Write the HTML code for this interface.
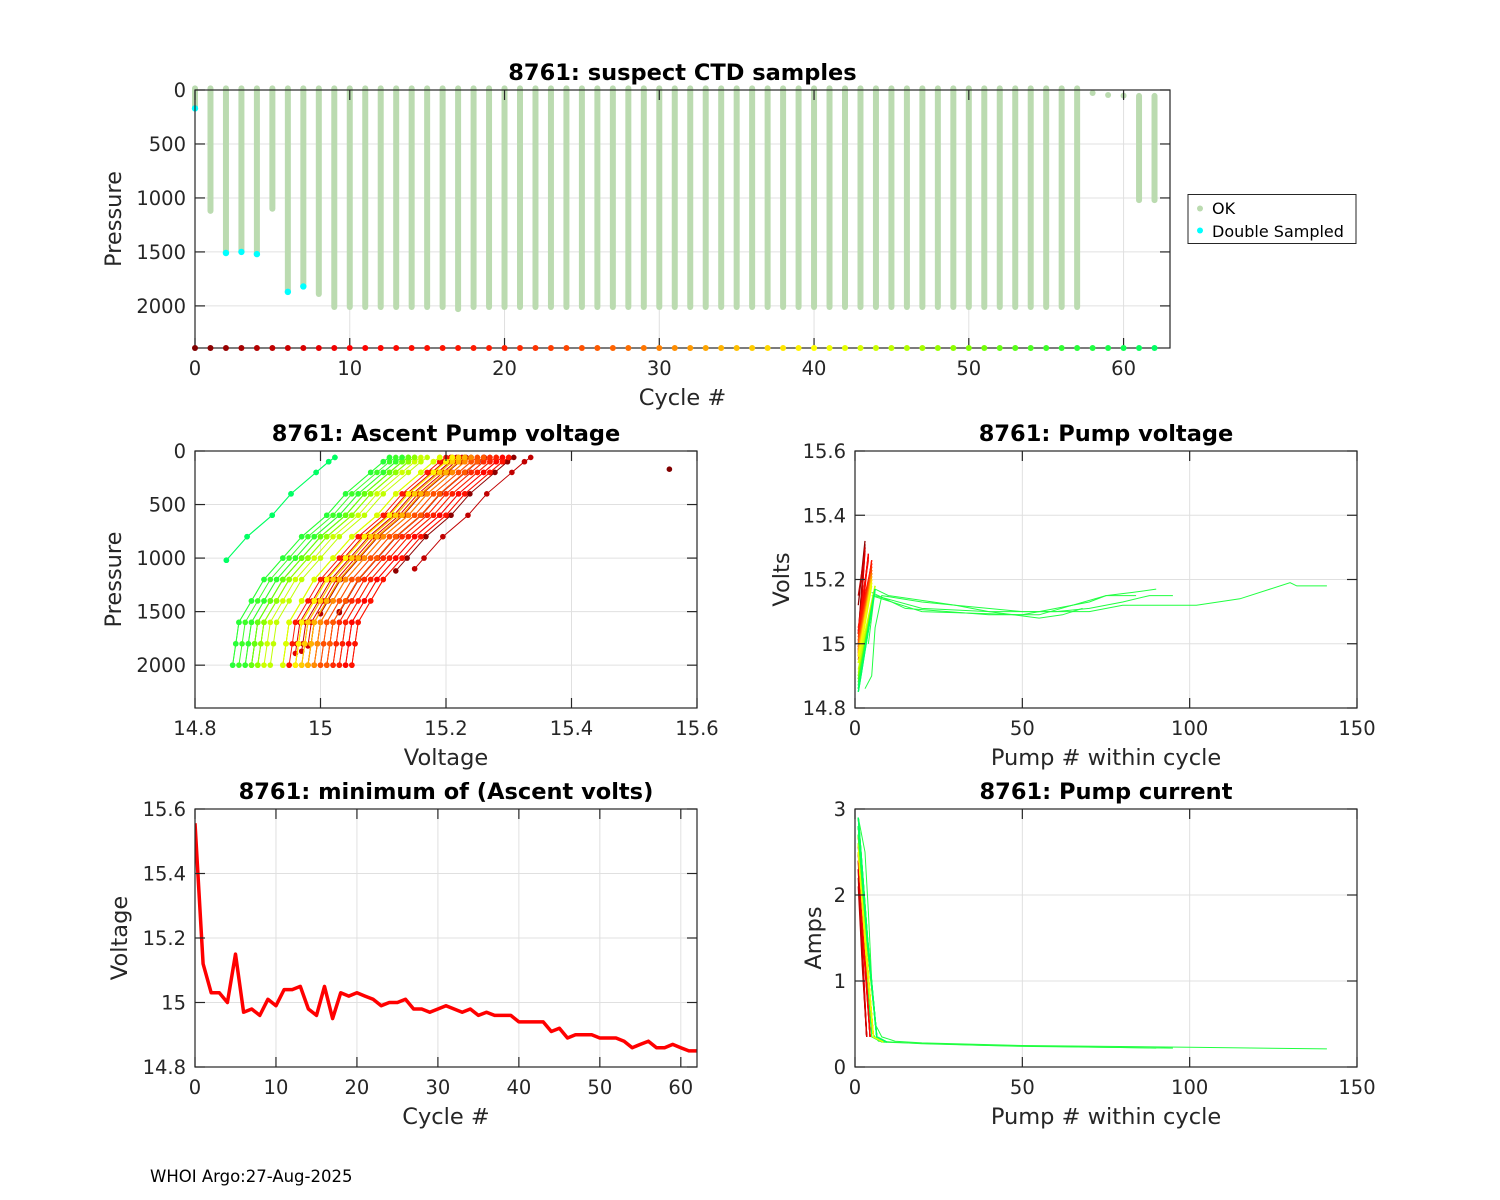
<!DOCTYPE html>
<html><head><meta charset="utf-8"><style>
html,body{margin:0;padding:0;background:#fff;}
svg{display:block;font-family:"DejaVu Sans","Liberation Sans",sans-serif;}
</style></head><body>
<svg id="fig" width="1500" height="1200" viewBox="0 0 1500 1200" xmlns="http://www.w3.org/2000/svg">
<rect width="1500" height="1200" fill="#fff"/>
<text x="150" y="1182" font-size="16.5" fill="#000">WHOI Argo:27-Aug-2025</text>
</svg>
<script>
// ---------- data ----------
const cycles = [0,1,2,3,4,5,6,7,8,9,10,11,12,13,14,15,16,17,18,19,20,21,22,23,24,25,26,27,28,29,30,31,32,33,34,35,36,37,38,39,40,41,42,43,44,45,46,47,48,49,50,51,52,53,54,55,56,57,58,59,60,61,62];
const maxPres = [170,1120,1510,1500,1520,1100,1870,1820,1890,2010,2010,2010,2010,2010,2010,2010,2010,2030,2010,2010,2010,2010,2010,2010,2010,2010,2010,2010,2010,2010,2010,2010,2010,2010,2010,2010,2010,2010,2010,2010,2010,2010,2010,2010,2010,2010,2010,2010,2010,2010,2010,2010,2010,2010,2010,2010,2010,2010,28,46,52,1020,1020];
const minPres = [-15,-15,-15,-15,-15,-15,-15,-15,-15,-15,-15,-15,-15,-15,-15,-15,-15,-15,-15,-15,-15,-15,-15,-15,-15,-15,-15,-15,-15,-15,-15,-15,-15,-15,-15,-15,-15,-15,-15,-15,-15,-15,-15,-15,-15,-15,-15,-15,-15,-15,-15,-15,-15,-15,-15,-15,-15,-15,28,46,52,55,55];
const doubleCycles = [0,2,3,4,6,7];
const doublePres = [170,1510,1500,1520,1870,1820];
const minVolts = [15.556,15.12,15.03,15.03,15.0,15.15,14.97,14.98,14.96,15.01,14.99,15.04,15.04,15.05,14.98,14.96,15.05,14.95,15.03,15.02,15.03,15.02,15.01,14.99,15.0,15.0,15.01,14.98,14.98,14.97,14.98,14.99,14.98,14.97,14.98,14.96,14.97,14.96,14.96,14.96,14.94,14.94,14.94,14.94,14.91,14.92,14.89,14.9,14.9,14.9,14.89,14.89,14.89,14.88,14.86,14.87,14.88,14.86,14.86,14.87,14.86,14.85,14.85];
const profLevels = [2000,1800,1600,1400,1200,1000,800,600,400,200,100,60];
const profOffset = [0,0.005,0.01,0.03,0.05,0.08,0.11,0.15,0.18,0.22,0.24,0.25];
const pvPeak = [15.3,15.32,15.31,15.3,15.3,15.29,15.3,15.29,15.28,15.28,15.28,15.27,15.27,15.26,15.26,15.26,15.25,15.25,15.25,15.25,15.24,15.24,15.24,15.23,15.23,15.23,15.22,15.22,15.22,15.22,15.22,15.21,15.21,15.21,15.2,15.2,15.2,15.2,15.19,15.19,15.19,15.19,15.18,15.18,15.18,15.18,15.17,15.17,15.17,15.17,15.17,15.17,15.17,15.17,15.17,15.17,15.17,15.17,15.17,15.17,15.17,15.17,15.17];
const pvN = [3,3,3,3,3,3,3,3,4,4,4,4,4,4,5,5,5,5,5,5,5,5,5,5,5,5,5,5,5,5,5,5,5,5,5,5,5,5,5,5,5,5,5,6,6,6,6,6,6,6,6,6,6,6,6,6,6,6,6,6,6,6,6];
const currStart = [2.0,2.3,2.2,2.4,2.1,2.5,2.3,2.6,2.4,2.5,2.6,2.5,2.7,2.6,2.5,2.6,2.7,2.6,2.5,2.6,2.7,2.6,2.5,2.6,2.7,2.6,2.5,2.6,2.7,2.6,2.5,2.6,2.7,2.6,2.5,2.6,2.7,2.6,2.5,2.6,2.7,2.6,2.5,2.6,2.7,2.8,2.7,2.8,2.9,2.8,2.7,2.8,2.9,2.8,2.7,2.8,2.9,2.8,2.7,2.8,2.9,2.8,2.9];
const longV1 = [[4,15.0],[6,15.17],[10,15.15],[30,15.12],[50,15.1],[70,15.1],[80,15.12],[102,15.12],[115,15.14],[124,15.17],[130,15.19],[132,15.18],[141,15.18]];
const longV2 = [[3,14.86],[5,14.9],[6,15.05],[8,15.15],[20,15.13],[30,15.12],[40,15.1],[60,15.1],[70,15.11],[80,15.13],[88,15.15],[95,15.15]];
const longV3 = [[5,15.16],[15,15.11],[40,15.09],[55,15.09],[65,15.12],[75,15.15],[83,15.16],[90,15.17]];
const longV4 = [[5,15.15],[20,15.1],[50,15.09],[55,15.1],[70,15.13],[75,15.15],[84,15.15]];
const longV5 = [[6,15.15],[20,15.11],[40,15.1],[55,15.08],[62,15.09],[68,15.11]];
const longC1 = [[1,2.9],[3,2.5],[4,1.8],[5,1.0],[6,0.5],[8,0.35],[12,0.3],[20,0.28],[50,0.25],[100,0.23],[141,0.21]];
const longC2 = [[1,2.8],[4,0.9],[5,0.4],[7,0.3],[20,0.27],[50,0.24],[95,0.22]];
const longC3 = [[1,2.7],[4,0.8],[5,0.35],[8,0.29],[40,0.25],[90,0.22]];

// ---------- helpers ----------
const svg = document.getElementById('fig');
const NS = 'http://www.w3.org/2000/svg';
function mk(tag, attrs, parent){
  const e = document.createElementNS(NS, tag);
  for (const k in attrs) e.setAttribute(k, attrs[k]);
  (parent||svg).appendChild(e);
  return e;
}
function lerp(a,b,t){return a+(b-a)*t;}
const cmapStops = [[0,[128,0,0]],[10,[255,0,0]],[20,[255,32,0]],[30,[255,128,0]],[40,[255,255,0]],[50,[128,255,0]],[56,[48,255,48]],[62,[0,255,100]]];
function cmap(c){
  for (let i=0;i<cmapStops.length-1;i++){
    const [a,ca]=cmapStops[i],[b,cb]=cmapStops[i+1];
    if (c<=b){const t=(c-a)/(b-a);return 'rgb('+ca.map((v,j)=>Math.round(lerp(v,cb[j],t))).join(',')+')';}
  }
  return 'rgb(0,255,100)';
}
function makeAxes(o){
  const sx = v => o.x0 + (v-o.xl[0])/(o.xl[1]-o.xl[0])*(o.x1-o.x0);
  const sy = o.rev ? (v => o.y0 + (v-o.yl[0])/(o.yl[1]-o.yl[0])*(o.y1-o.y0))
                   : (v => o.y1 - (v-o.yl[0])/(o.yl[1]-o.yl[0])*(o.y1-o.y0));
  const g = mk('g',{});
  
  
  const grid = mk('g',{stroke:'#e0e0e0','stroke-width':1},g);
  
  
  o.xt.forEach(t=>mk('line',{x1:sx(t),x2:sx(t),y1:o.y0,y2:o.y1},grid));
  o.yt.forEach(t=>mk('line',{x1:o.x0,x2:o.x1,y1:sy(t),y2:sy(t)},grid));
  const cid = o.name+'-clip';
  const cp = mk('clipPath',{id:cid},g);
  mk('rect',{x:o.x0,y:o.y0,width:o.x1-o.x0,height:o.y1-o.y0},cp);
  const data = mk('g',{'clip-path':o.noclip?'':'url(#'+cid+')'},g);
  
  
  return {g,sx,sy,data,o};
}
function finishAxes(A){
  const o=A.o, g=A.g, sx=A.sx, sy=A.sy;
  const fr = mk('g',{stroke:'#262626','stroke-width':1.2,fill:'none'},g);
  
  
  mk('rect',{x:o.x0,y:o.y0,width:o.x1-o.x0,height:o.y1-o.y0},fr);
  o.xt.forEach(t=>{mk('line',{x1:sx(t),x2:sx(t),y1:o.y1,y2:o.y1-10},fr);mk('line',{x1:sx(t),x2:sx(t),y1:o.y0,y2:o.y0+10},fr);});
  o.yt.forEach(t=>{mk('line',{x1:o.x0,x2:o.x0+10,y1:sy(t),y2:sy(t)},fr);mk('line',{x1:o.x1,x2:o.x1-10,y1:sy(t),y2:sy(t)},fr);});
  const tl = mk('g',{'font-size':19.5,fill:'#262626'},g);
  
  
  o.xt.forEach((t,i)=>{const e=mk('text',{x:sx(t),y:o.y1+27,'text-anchor':'middle'},tl);e.textContent=o.xtl[i];});
  o.yt.forEach((t,i)=>{const e=mk('text',{x:o.x0-9,y:sy(t)+7,'text-anchor':'end'},tl);e.textContent=o.ytl[i];});
  const ti = mk('text',{x:(o.x0+o.x1)/2,y:o.y0-10,'text-anchor':'middle','font-size':22.5,'font-weight':'bold',fill:'#000'},g);
  
  
  ti.textContent=o.title;
  const xl = mk('text',{x:(o.x0+o.x1)/2,y:o.y1+57,'text-anchor':'middle','font-size':22.5,fill:'#262626'},g);
  
  
  xl.textContent=o.xlabel;
  const cy=(o.y0+o.y1)/2;
  const yl = mk('text',{x:o.ylx,y:cy,'text-anchor':'middle','font-size':22.5,fill:'#262626',transform:'rotate(-90 '+o.ylx+' '+cy+')'},g);
  
  
  yl.textContent=o.ylabel;
}
function pathOf(pts){return pts.map((p,i)=>(i?'L':'M')+p[0].toFixed(1)+' '+p[1].toFixed(1)).join(' ');}

// ---------- Plot 1: suspect CTD samples ----------
(function(){
  const A = makeAxes({name:'ctd-samples-plot',x0:195,x1:1170,y0:90,y1:348,xl:[0,63],yl:[0,2390],rev:true,
    xt:[0,10,20,30,40,50,60],xtl:['0','10','20','30','40','50','60'],yt:[0,500,1000,1500,2000],ytl:['0','500','1000','1500','2000'],
    title:'8761: suspect CTD samples',xlabel:'Cycle #',ylabel:'Pressure',ylx:121,noclip:true});
  cycles.forEach((c,i)=>{
    const l = mk('line',{x1:A.sx(c),x2:A.sx(c),y1:A.sy(minPres[i]),y2:A.sy(maxPres[i]),stroke:'#bbdbb0','stroke-width':6,'stroke-linecap':'round'},A.data);
    
    
  });
  doubleCycles.forEach((c,i)=>{
    const d = mk('circle',{cx:A.sx(c),cy:A.sy(doublePres[i]),r:3.2,fill:'#00ffff'},A.data);
    
    
  });
  finishAxes(A);
  cycles.forEach(c=>{
    const d = mk('circle',{cx:A.sx(c),cy:348,r:3,fill:cmap(c)},A.g);
    
    
  });
  const lg = mk('g',{},svg);
  
  
  mk('rect',{x:1188,y:194.5,width:168,height:49,fill:'#fff',stroke:'#262626','stroke-width':1},lg);
  const e1 = mk('g',{},lg);
  
  
  mk('circle',{cx:1200,cy:208.5,r:3,fill:'#bbdbb0'},e1);
  const t1 = mk('text',{x:1212,y:214,'font-size':16,fill:'#000'},e1); t1.textContent='OK';
  const e2 = mk('g',{},lg);
  
  
  mk('circle',{cx:1200,cy:230.5,r:3,fill:'#00ffff'},e2);
  const t2 = mk('text',{x:1212,y:237,'font-size':16,fill:'#000'},e2); t2.textContent='Double Sampled';
})();

// ---------- Plot 2: ascent pump voltage ----------
(function(){
  const A = makeAxes({name:'ascent-pump-voltage-plot',x0:195,x1:697,y0:451,y1:708,xl:[14.8,15.6],yl:[0,2400],rev:true,
    xt:[14.8,15,15.2,15.4,15.6],xtl:['14.8','15','15.2','15.4','15.6'],yt:[0,500,1000,1500,2000],ytl:['0','500','1000','1500','2000'],
    title:'8761: Ascent Pump voltage',xlabel:'Voltage',ylabel:'Pressure',ylx:121});
  cycles.forEach((c,i)=>{
    const col = cmap(c);
    const g = mk('g',{},A.data);
    
    
    if (maxPres[i] < 200){
      if (c===0) mk('circle',{cx:A.sx(minVolts[i]),cy:A.sy(maxPres[i]),r:2.8,fill:col},g);
      return;
    }
    let base = 0;
    for (let k=1;k<profLevels.length;k++){
      if (profLevels[k]<=maxPres[i]){ base = lerp(profOffset[k-1],profOffset[k],(profLevels[k-1]-Math.min(maxPres[i],profLevels[k-1]))/(profLevels[k-1]-profLevels[k])); break; }
    }
    const pts = [[A.sx(minVolts[i]),A.sy(Math.min(maxPres[i],2000))]];
    profLevels.forEach((p,k)=>{ if (p<maxPres[i]-20) pts.push([A.sx(minVolts[i]+profOffset[k]-base),A.sy(p)]); });
    mk('path',{d:pathOf(pts),fill:'none',stroke:col,'stroke-width':1},g);
    pts.forEach(p=>mk('circle',{cx:p[0],cy:p[1],r:2.8,fill:col},g));
  });
  finishAxes(A);
})();

// ---------- Plot 3: pump voltage ----------
(function(){
  const A = makeAxes({name:'pump-voltage-plot',x0:855,x1:1357,y0:451,y1:708,xl:[0,150],yl:[14.8,15.6],
    xt:[0,50,100,150],xtl:['0','50','100','150'],yt:[14.8,15,15.2,15.4,15.6],ytl:['14.8','15','15.2','15.4','15.6'],
    title:'8761: Pump voltage',xlabel:'Pump # within cycle',ylabel:'Volts',ylx:789});
  const green = cmap(58);
  [longV1,longV2,longV3,longV4,longV5].forEach((L,j)=>{
    const p = mk('path',{d:pathOf(L.map(q=>[A.sx(q[0]),A.sy(q[1])])),fill:'none',stroke:green,'stroke-width':1},A.data);
    
    
  });
  cycles.forEach((c,i)=>{
    if (c===0) return;
    const pts=[];
    for (let n=1;n<=pvN[i];n++){ pts.push([A.sx(n),A.sy(lerp(minVolts[i],pvPeak[i],(n-1)/(pvN[i]-1)))]); }
    const p = mk('path',{d:pathOf(pts),fill:'none',stroke:cmap(c),'stroke-width':1.3},A.data);
    
    
  });
  finishAxes(A);
})();

// ---------- Plot 4: minimum ascent volts ----------
(function(){
  const A = makeAxes({name:'min-ascent-volts-plot',x0:195,x1:697,y0:809,y1:1067,xl:[0,62],yl:[14.8,15.6],
    xt:[0,10,20,30,40,50,60],xtl:['0','10','20','30','40','50','60'],yt:[14.8,15,15.2,15.4,15.6],ytl:['14.8','15','15.2','15.4','15.6'],
    title:'8761: minimum of (Ascent volts)',xlabel:'Cycle #',ylabel:'Voltage',ylx:127});
  const p = mk('path',{d:pathOf(cycles.map((c,i)=>[A.sx(c),A.sy(minVolts[i])])),fill:'none',stroke:'#ff0000','stroke-width':3.5,'stroke-linejoin':'round'},A.data);
  
  
  finishAxes(A);
})();

// ---------- Plot 5: pump current ----------
(function(){
  const A = makeAxes({name:'pump-current-plot',x0:855,x1:1357,y0:809,y1:1067,xl:[0,150],yl:[0,3],
    xt:[0,50,100,150],xtl:['0','50','100','150'],yt:[0,1,2,3],ytl:['0','1','2','3'],
    title:'8761: Pump current',xlabel:'Pump # within cycle',ylabel:'Amps',ylx:821});
  const green = cmap(58);
  [longC1,longC2,longC3].forEach((L,j)=>{
    const p = mk('path',{d:pathOf(L.map(q=>[A.sx(q[0]),A.sy(q[1])])),fill:'none',stroke:green,'stroke-width':1},A.data);
    
    
  });
  cycles.forEach((c,i)=>{
    if (c===0) return;
    const n = pvN[i]+0.5;
    const pts=[[A.sx(1),A.sy(currStart[i])],[A.sx(lerp(1,n,0.5)),A.sy(lerp(currStart[i],0.35,0.55))],[A.sx(n),A.sy(0.35)]];
    if (c>40) pts.push([A.sx(n+3),A.sy(0.29)]);
    const p = mk('path',{d:pathOf(pts),fill:'none',stroke:cmap(c),'stroke-width':1.3},A.data);
    
    
  });
  finishAxes(A);
})();
</script>
</body></html>
